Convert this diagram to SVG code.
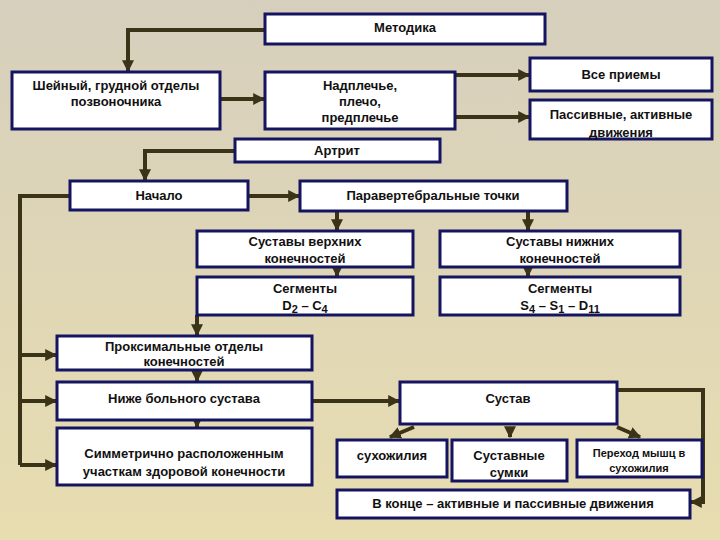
<svg xmlns="http://www.w3.org/2000/svg" width="720" height="540" viewBox="0 0 720 540">
<defs>
<linearGradient id="bg" x1="0" y1="0" x2="0" y2="1"><stop offset="0" stop-color="#d6cfbd"/><stop offset="1" stop-color="#e8ddb0"/></linearGradient>
<marker id="ah" viewBox="0 0 10 10" refX="9" refY="5" markerWidth="3" markerHeight="3" orient="auto"><path d="M0,0L10,5L0,10z" fill="#3a3318"/></marker>
</defs>
<style>
.b{fill:#fff;stroke:#141460;stroke-width:3}
.t{font-family:"Liberation Sans",Arial,sans-serif;font-size:13px;font-weight:bold;fill:#111;text-anchor:middle}
.s{font-size:11px}
.c{fill:none;stroke:#3a3318;stroke-width:4;marker-end:url(#ah)}
.n{fill:none;stroke:#3a3318;stroke-width:4}
</style>
<rect width="720" height="540" fill="url(#bg)"/>
<g id="connectors">
<path class="c" d="M265,30H128V71"/>
<path class="c" d="M220,99H264"/>
<path class="c" d="M455,75H529"/>
<path class="c" d="M455,117H529"/>
<path class="c" d="M235,151H145V180"/>
<path class="c" d="M248,196H299"/>
<path class="n" d="M70,196H20V465"/>
<path class="c" d="M20,355H56"/>
<path class="c" d="M20,401H56"/>
<path class="c" d="M20,465H56"/>
<path class="c" d="M337,211V230"/>
<path class="c" d="M528,211V230"/>
<path class="c" d="M337,267V276"/>
<path class="c" d="M528,267V276"/>
<path class="c" d="M197,315V335"/>
<path class="c" d="M197,370V381"/>
<path class="c" d="M197,420V427"/>
<path class="c" d="M312,401H399"/>
<path class="c" d="M617,390H703V502H691"/>
<path class="c" d="M414,427L390,437"/>
<path class="c" d="M510,427V437"/>
<path class="c" d="M617,427L640,437"/>
</g>
<g id="metodika"><rect class="b" x="265" y="14" width="280" height="30"/><text class="t" x="405" y="32">Методика</text></g>
<g id="sheiny"><rect class="b" x="12" y="72" width="208" height="57"/><text class="t" x="116" y="90">Шейный, грудной отделы</text><text class="t" x="116" y="106">позвоночника</text></g>
<g id="nadplechye"><rect class="b" x="265" y="72" width="190" height="57"/><text class="t" x="360" y="90">Надплечье,</text><text class="t" x="360" y="106">плечо,</text><text class="t" x="360" y="122">предплечье</text></g>
<g id="vse"><rect class="b" x="530" y="58" width="182" height="33"/><text class="t" x="621" y="79">Все приемы</text></g>
<g id="passivnye"><rect class="b" x="530" y="100" width="182" height="39"/><text class="t" x="621" y="119">Пассивные, активные</text><text class="t" x="621" y="137">движения</text></g>
<g id="artrit"><rect class="b" x="235" y="139" width="205" height="23"/><text class="t" x="337" y="155">Артрит</text></g>
<g id="nachalo"><rect class="b" x="70" y="181" width="178" height="29"/><text class="t" x="159" y="200">Начало</text></g>
<g id="paravert"><rect class="b" x="300" y="181" width="267" height="30"/><text class="t" x="433" y="200">Паравертебральные точки</text></g>
<g id="verh"><rect class="b" x="197" y="231" width="216" height="36"/><text class="t" x="305" y="246">Суставы верхних</text><text class="t" x="305" y="263">конечностей</text></g>
<g id="nizh"><rect class="b" x="440" y="231" width="240" height="36"/><text class="t" x="560" y="246">Суставы нижних</text><text class="t" x="560" y="263">конечностей</text></g>
<g id="segD"><rect class="b" x="197" y="277" width="216" height="38"/><text class="t" x="305" y="293">Сегменты</text><text class="t" x="305" y="310">D<tspan class="s" dy="3">2</tspan><tspan dy="-3"> – С</tspan><tspan class="s" dy="3">4</tspan></text></g>
<g id="segS"><rect class="b" x="440" y="277" width="240" height="38"/><text class="t" x="560" y="293">Сегменты</text><text class="t" x="560" y="310">S<tspan class="s" dy="3">4</tspan><tspan dy="-3"> – S</tspan><tspan class="s" dy="3">1</tspan><tspan dy="-3"> – D</tspan><tspan class="s" dy="3">11</tspan></text></g>
<g id="prox"><rect class="b" x="57" y="336" width="255" height="34"/><text class="t" x="184" y="351">Проксимальные отделы</text><text class="t" x="184" y="366">конечностей</text></g>
<g id="nizhe"><rect class="b" x="57" y="382" width="255" height="38"/><text class="t" x="184" y="403">Ниже больного сустава</text></g>
<g id="simm"><rect class="b" x="57" y="428" width="255" height="57"/><text class="t" x="184" y="458">Симметрично расположенным</text><text class="t" x="184" y="476">участкам здоровой конечности</text></g>
<g id="sustav"><rect class="b" x="400" y="382" width="217" height="42"/><text class="t" x="508" y="403">Сустав</text></g>
<g id="suhozh"><rect class="b" x="337" y="440" width="110" height="37"/><text class="t" x="392" y="460">сухожилия</text></g>
<g id="sumki"><rect class="b" x="452" y="440" width="115" height="41"/><text class="t" x="509" y="460">Суставные</text><text class="t" x="509" y="477">сумки</text></g>
<g id="perehod"><rect class="b" x="577" y="440" width="125" height="37"/><text class="t" x="639" y="457" style="font-size:11px">Переход мышц в</text><text class="t" x="639" y="472" style="font-size:11px">сухожилия</text></g>
<g id="konec"><rect class="b" x="337" y="490" width="353" height="28"/><text class="t" x="513" y="508">В конце – активные и пассивные движения</text></g>
</svg>
